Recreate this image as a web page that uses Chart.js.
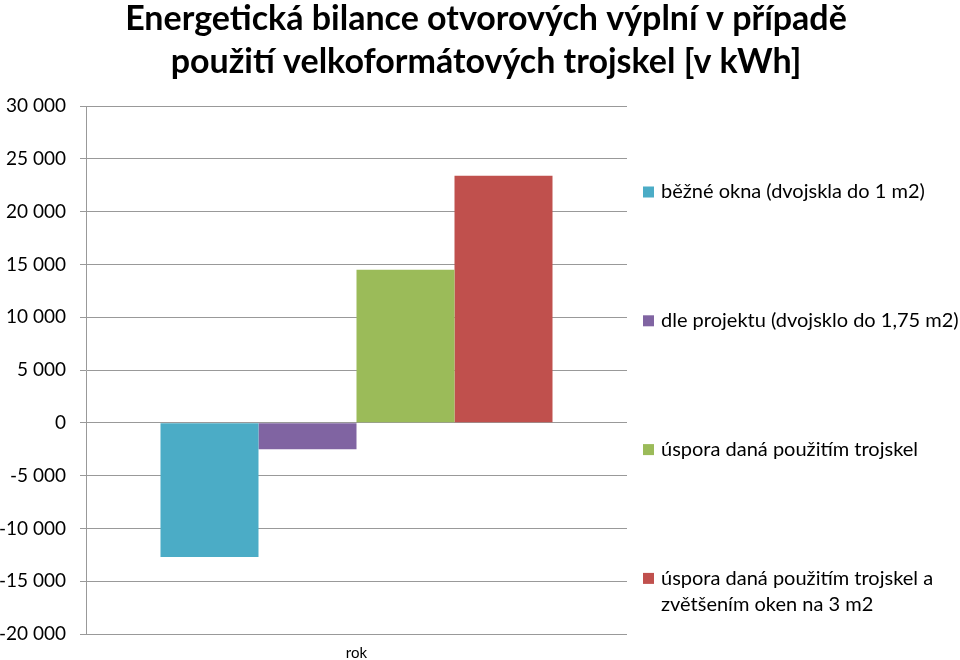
<!DOCTYPE html>
<html><head><meta charset="utf-8">
<script src="https://cdn.jsdelivr.net/npm/chart.js@4"></script>
<style>html,body{margin:0;padding:0;background:#fff}#wrap{width:960px;height:660px}</style>
</head><body><div id="wrap"><canvas id="c" width="960" height="660"></canvas></div>
<script>
const titleLines = ["Energetická bilance otvorových výplní v případě", "použití velkoformátových trojskel [v kWh]"];
const categories = ["rok"];
const seriesNames = ["běžné okna (dvojskla do 1 m2)", "dle projektu (dvojsklo do 1,75 m2)", "úspora daná použitím trojskel", "úspora daná použitím trojskel a zvětšením oken na 3 m2"];
const seriesValues = [[-12700], [-2500], [14500], [23400]];
const seriesColors = ["#4BACC6", "#8064A2", "#9BBB59", "#C0504D"];
const yMin = -20000, yMax = 30000, yStep = 5000;

function fmt(v) {
  const s = Math.abs(v).toString().replace(/\B(?=(\d{3})+(?!\d))/g, " ");
  return (v < 0 ? "-" : "") + s;
}

const sideLegend = {
  id: 'sideLegend',
  afterDraw(chart, args, o) {
    const ctx = chart.ctx;
    ctx.save();
    ctx.font = o.size + 'px ' + o.family;
    ctx.textBaseline = 'middle';
    ctx.textAlign = 'left';
    chart.data.datasets.forEach((ds, i) => {
      const cy = o.firstY + i * o.step;
      ctx.fillStyle = ds.backgroundColor;
      ctx.fillRect(o.boxX, cy - o.box / 2, o.box, o.box);
      const words = ds.label.split(' ');
      const lines = []; let cur = '';
      words.forEach(w => {
        const t = cur ? cur + ' ' + w : w;
        if (ctx.measureText(t).width > o.maxW && cur) { lines.push(cur); cur = w; } else cur = t;
      });
      lines.push(cur);
      ctx.fillStyle = o.color;
      lines.forEach((l, j) => ctx.fillText(l, o.textX, cy + j * o.lineH));
    });
    ctx.restore();
  }
};

new Chart(document.getElementById('c'), {
  type: 'bar',
  data: {
    labels: categories,
    datasets: seriesNames.map((n, i) => ({
      label: n, data: seriesValues[i], backgroundColor: seriesColors[i],
      borderWidth: 0, categoryPercentage: 0.7246, barPercentage: 1
    }))
  },
  options: {
    responsive: false, animation: false,
    layout: { padding: { left: 0, right: -12, top: 0, bottom: 0 } },
    plugins: {
      legend: { display: false },
      tooltip: { enabled: false },
      title: {
        display: true, text: titleLines, color: '#000',
        font: { family: 'Lato', size: 34, weight: 'bold', lineHeight: '42.5px' },
        padding: { top: -2, bottom: 23 }
      },
      sideLegend: { family: 'Lato', size: 20, color: '#000', firstY: 192, step: 128.8, boxX: 643, box: 11, textX: 661, lineH: 26, maxW: 305 }
    },
    scales: {
      x: {
        grid: { display: false, drawTicks: false }, border: { display: false },
        ticks: { color: '#000', font: { family: 'Lato', size: 15 }, padding: 10 },
        afterFit(s) { s.height = 26; }
      },
      y: {
        min: yMin, max: yMax,
        ticks: { stepSize: yStep, color: '#000', font: { family: 'Lato', size: 19 }, padding: 14, callback: v => fmt(v) },
        grid: { color: '#999', tickLength: 6, lineWidth: 1 },
        border: { color: '#999' },
        afterFit(s) { s.width = 86; }
      },
      y2: {
        position: 'right', display: true,
        ticks: { display: false }, grid: { display: false, drawTicks: false }, border: { display: false },
        afterFit(s) { s.width = 345; }
      }
    }
  },
  plugins: [sideLegend]
});
</script>
</body></html>
